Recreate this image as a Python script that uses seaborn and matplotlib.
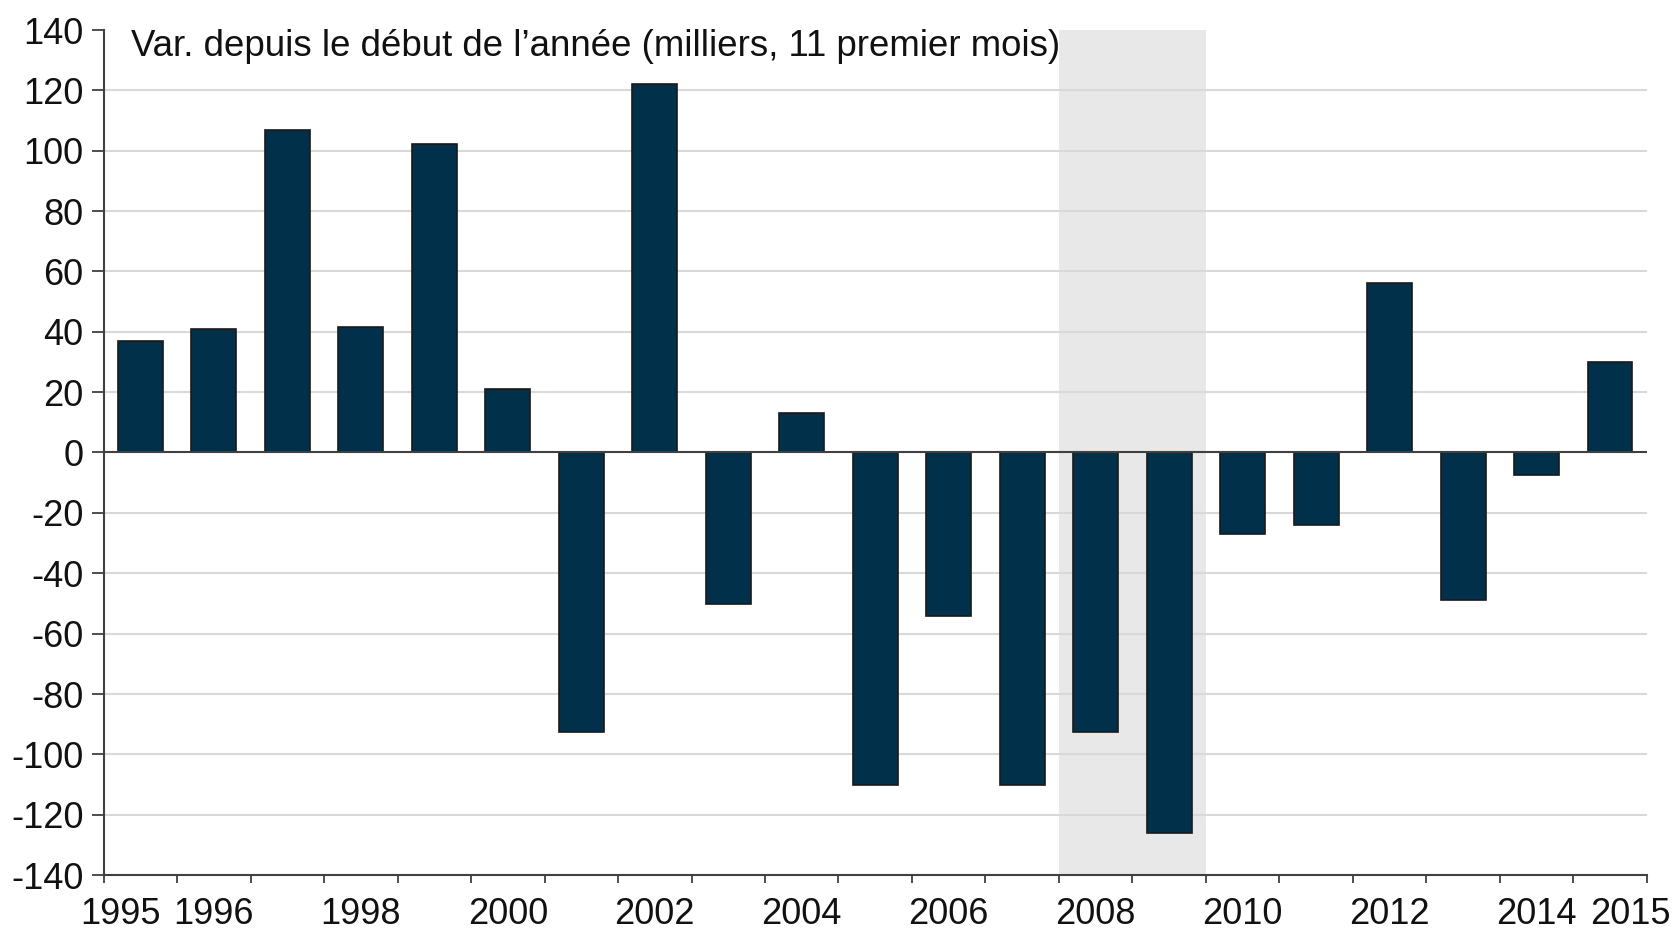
import matplotlib
matplotlib.use("Agg")
import matplotlib.pyplot as plt
import matplotlib.transforms as mtransforms
import seaborn as sns
import pandas as pd
import numpy as np

years = [str(y) for y in range(1995, 2016)]
values = [37, 41, 106.7, 41.7, 102.2, 21, -92.6, 122, -50.2, 13.1, -110.3,
          -54.1, -110.3, -92.6, -126.2, -26.9, -24, 56.2, -48.8, -7.4, 30]
labeled_years = ["1995", "1996", "1998", "2000", "2002", "2004", "2006",
                 "2008", "2010", "2012", "2014", "2015"]
yticks = list(range(-140, 141, 20))
shade_start, shade_end = "2008", "2009"
title = "Var. depuis le début de l\u2019année (milliers, 11 premier mois)"

sns.set_theme(style="white")
plt.rcParams["font.family"] = ["Liberation Sans", "DejaVu Sans"]

df = pd.DataFrame({"year": years, "value": values})

fig = plt.figure(figsize=(16.77, 9.291), dpi=100)
ax = fig.add_axes([0.0618, 0.0581, 0.9202, 0.9096])

sns.barplot(data=df, x="year", y="value", color="#00304a", width=0.61,
            edgecolor="#1a1a1a", linewidth=1.2, saturation=1, ax=ax, zorder=3)

ax.set_ylim(-140, 140)
ax.set_xlim(-0.5, len(years) - 0.5)

i0 = years.index(shade_start)
i1 = years.index(shade_end)
ax.axvspan(i0 - 0.5, i1 + 0.5, color="#e8e8e8", zorder=0, lw=0)

for y in yticks:
    if y not in (-140, 0, 140):
        ax.axhline(y, color="#d9d9d9", lw=1.5, zorder=1)
ax.axhline(0, color="#404040", lw=1.5, zorder=4)

for s in ["top", "right"]:
    ax.spines[s].set_visible(False)
for s in ["left", "bottom"]:
    ax.spines[s].set_color("#404040")
    ax.spines[s].set_linewidth(1.5)

ax.set_yticks(yticks)
ax.set_yticklabels([str(v) for v in yticks])
ax.tick_params(axis="y", which="major", length=8.5, width=1.3, color="#404040",
               pad=6, labelsize=26, left=True, labelcolor="#111111")

pos = [years.index(y) for y in labeled_years]
ax.set_xticks(pos)
ax.set_xticklabels(labeled_years)
ax.set_xticks(np.arange(-0.5, len(years), 1.0), minor=True)
ax.tick_params(axis="x", which="major", length=0, pad=16, labelsize=26,
               labelcolor="#111111")
ax.tick_params(axis="x", which="minor", length=6, width=1.3, color="#404040",
               bottom=True)
ax.set_xlabel("")
ax.set_ylabel("")

labels = ax.get_xticklabels()
dpi = fig.dpi
labels[0].set_transform(labels[0].get_transform() +
                        mtransforms.ScaledTranslation(-20 / dpi, 0, fig.dpi_scale_trans))
labels[-1].set_transform(labels[-1].get_transform() +
                         mtransforms.ScaledTranslation(20 / dpi, 0, fig.dpi_scale_trans))

ax.annotate(title, xy=(0, 1), xycoords="axes fraction", xytext=(27, 1),
            textcoords="offset pixels", ha="left", va="top", fontsize=26.4,
            color="#111111", zorder=5)

fig.savefig("out.png", dpi=100)
